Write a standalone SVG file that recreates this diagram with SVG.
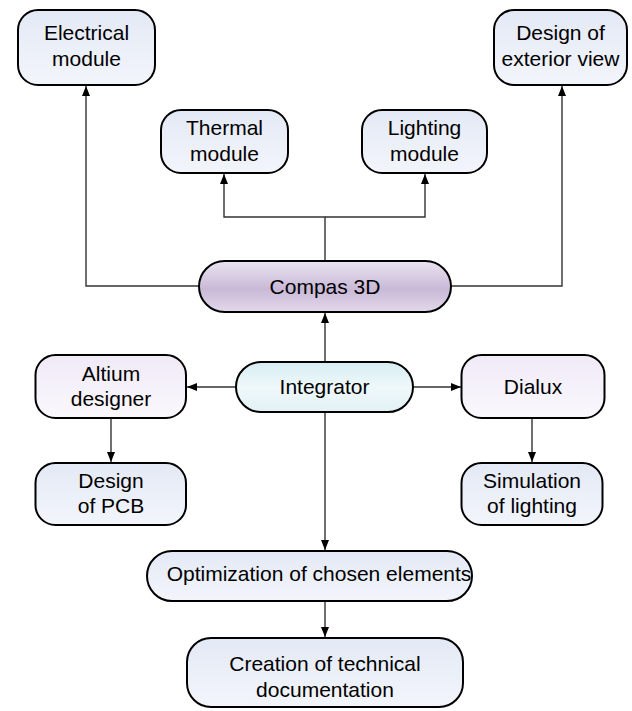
<svg xmlns="http://www.w3.org/2000/svg" width="632" height="711" viewBox="0 0 632 711">
<defs>
  <linearGradient id="gBlue" x1="0" y1="0" x2="0" y2="1">
    <stop offset="0" stop-color="#e3e9f5"/>
    <stop offset="1" stop-color="#f3f5fb"/>
  </linearGradient>
  <linearGradient id="gLav" x1="0" y1="0" x2="0" y2="1">
    <stop offset="0" stop-color="#f0eaf7"/>
    <stop offset="1" stop-color="#faf8fd"/>
  </linearGradient>
  <linearGradient id="gPurple" x1="0" y1="0" x2="0" y2="1">
    <stop offset="0" stop-color="#ebe4f1"/>
    <stop offset="0.55" stop-color="#c9b9d7"/>
    <stop offset="1" stop-color="#e2d8ea"/>
  </linearGradient>
  <linearGradient id="gCyan" x1="0" y1="0" x2="0" y2="1">
    <stop offset="0" stop-color="#d6edf3"/>
    <stop offset="0.5" stop-color="#eef8fa"/>
    <stop offset="1" stop-color="#e2f1f5"/>
  </linearGradient>
  <marker id="arr" markerUnits="userSpaceOnUse" markerWidth="10" markerHeight="10" refX="10" refY="5" orient="auto">
    <path d="M0,1 L10,5 L0,9 z" fill="#000"/>
  </marker>
  <style>
    .box { stroke: #000; stroke-width: 2; }
    .t { font-family: "Liberation Sans", Arial, sans-serif; font-size: 21px; fill: #000; text-anchor: middle; }
    .c { fill: none; stroke: #333; stroke-width: 1.4; }
  </style>
</defs>
<rect width="632" height="711" fill="#fff"/>

<g id="connectors">
  <path class="c" d="M199,286 H86 V86" marker-end="url(#arr)"/>
  <path class="c" d="M451,286 H562 V86" marker-end="url(#arr)"/>
  <path class="c" d="M325,261 V217 H224 V174" marker-end="url(#arr)"/>
  <path class="c" d="M325,217 H425 V174" marker-end="url(#arr)"/>
  <path class="c" d="M325,362 V313" marker-end="url(#arr)"/>
  <path class="c" d="M236,387 H187" marker-end="url(#arr)"/>
  <path class="c" d="M413,387 H461" marker-end="url(#arr)"/>
  <path class="c" d="M111,418 V462" marker-end="url(#arr)"/>
  <path class="c" d="M532,418 V462" marker-end="url(#arr)"/>
  <path class="c" d="M325,412 V550" marker-end="url(#arr)"/>
  <path class="c" d="M325,601 V637" marker-end="url(#arr)"/>
</g>

<g id="electrical">
  <rect class="box" x="18" y="10" width="137" height="75" rx="20" fill="url(#gBlue)"/>
  <text class="t" x="86.5" y="40">Electrical</text>
  <text class="t" x="86.5" y="66">module</text>
</g>
<g id="exterior">
  <rect class="box" x="494" y="10" width="133" height="75" rx="20" fill="url(#gBlue)"/>
  <text class="t" x="560.5" y="40">Design of</text>
  <text class="t" x="560.5" y="66">exterior view</text>
</g>
<g id="thermal">
  <rect class="box" x="161" y="110" width="127" height="63" rx="20" fill="url(#gBlue)"/>
  <text class="t" x="224.5" y="135">Thermal</text>
  <text class="t" x="224.5" y="161">module</text>
</g>
<g id="lighting">
  <rect class="box" x="362" y="110" width="125" height="63" rx="20" fill="url(#gBlue)"/>
  <text class="t" x="424.5" y="135">Lighting</text>
  <text class="t" x="424.5" y="161">module</text>
</g>
<g id="compas">
  <rect class="box" x="199" y="261" width="252" height="51" rx="25.5" fill="url(#gPurple)"/>
  <text class="t" x="325" y="294">Compas 3D</text>
</g>
<g id="altium">
  <rect class="box" x="35.5" y="355" width="150.5" height="63" rx="20" fill="url(#gLav)"/>
  <text class="t" x="111" y="381">Altium</text>
  <text class="t" x="111" y="406">designer</text>
</g>
<g id="integrator">
  <rect class="box" x="236" y="362" width="177" height="50" rx="25" fill="url(#gCyan)"/>
  <text class="t" x="324.5" y="394">Integrator</text>
</g>
<g id="dialux">
  <rect class="box" x="461.5" y="355" width="143" height="63" rx="20" fill="url(#gLav)"/>
  <text class="t" x="533" y="394">Dialux</text>
</g>
<g id="pcb">
  <rect class="box" x="35.5" y="463" width="150.5" height="62" rx="20" fill="url(#gBlue)"/>
  <text class="t" x="111" y="488">Design</text>
  <text class="t" x="111" y="513">of PCB</text>
</g>
<g id="simulation">
  <rect class="box" x="461.5" y="463" width="141" height="62" rx="20" fill="url(#gBlue)"/>
  <text class="t" x="532" y="488">Simulation</text>
  <text class="t" x="532" y="513">of lighting</text>
</g>
<g id="optimization">
  <rect class="box" x="147" y="551" width="325" height="50" rx="25" fill="url(#gBlue)"/>
  <text class="t" x="319" y="581">Optimization of chosen elements</text>
</g>
<g id="creation">
  <rect class="box" x="187" y="638" width="276" height="69" rx="24" fill="url(#gBlue)"/>
  <text class="t" x="325" y="671">Creation of technical</text>
  <text class="t" x="325" y="697">documentation</text>
</g>
</svg>
